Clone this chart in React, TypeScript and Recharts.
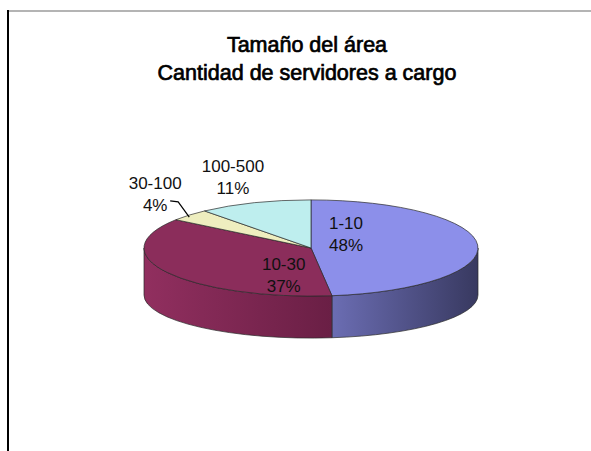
import { PieChart, Pie } from "recharts";

// tamaño del área: cantidad de servidores a cargo
const categories = ["1-10", "10-30", "30-100", "100-500"];
const shares = [48, 37, 4, 11];

const topColors = ["#8C8FEA", "#8B2D5B", "#EEEEBF", "#BEEEEE"];
const sideLight = ["#6B6DB3", "#912F5F", "#CFCF9A", "#9CCACA"];
const sideDark = ["#383960", "#6A1F45", "#A9A975", "#789D9D"];

// [radial fraction, vertical nudge] for each label
const labelSpots = [
  [0.21, -13],
  [0.19, 22],
  [1.28, -12],
  [1.38, -9],
];

const RY_RATIO = 0.288;
const RYB_RATIO = 0.258;
const DEPTH = 47;
const RAD = Math.PI / 180;

const data = categories.map((name, i) => ({ name, value: shares[i] }));

function Slice3D(props: any) {
  const { cx, cy, outerRadius: rx, startAngle, endAngle, name } = props;
  const i = categories.indexOf(name);
  const ry = rx * RY_RATIO;
  const ryb = rx * RYB_RATIO;
  const top = (a: number) => [cx + rx * Math.cos(a * RAD), cy - ry * Math.sin(a * RAD)];
  const bot = (a: number) => [cx + rx * Math.cos(a * RAD), cy + DEPTH - ryb * Math.sin(a * RAD)];
  const s = Math.max(startAngle, endAngle);
  const e = Math.min(startAngle, endAngle);

  // front half of the rim: angles between 0 and -180
  const sides: string[] = [];
  for (const k of [-360, 0, 360]) {
    const b1 = Math.min(s, 0 + k);
    const b2 = Math.max(e, -180 + k);
    if (b1 > b2) {
      const p1 = top(b1), p2 = top(b2), q2 = bot(b2), q1 = bot(b1);
      sides.push(
        `M${p1[0]},${p1[1]} A${rx},${ry} 0 0 1 ${p2[0]},${p2[1]} L${q2[0]},${q2[1]} A${rx},${ryb} 0 0 0 ${q1[0]},${q1[1]} Z`
      );
    }
  }
  const a = top(s), b = top(e);
  const large = s - e > 180 ? 1 : 0;
  const topPath = `M${cx},${cy} L${a[0]},${a[1]} A${rx},${ry} 0 ${large} 1 ${b[0]},${b[1]} Z`;
  const gid = `side-${i}`;
  return (
    <g>
      <defs>
        <linearGradient id={gid} x1="0" y1="0" x2="1" y2="0">
          <stop offset="0%" stopColor={sideLight[i]} />
          <stop offset="100%" stopColor={sideDark[i]} />
        </linearGradient>
      </defs>
      {sides.map((d, j) => (
        <path key={j} d={d} fill={`url(#${gid})`} stroke="#2a2a2a" strokeWidth={0.7} />
      ))}
      <path d={topPath} fill={topColors[i]} stroke="#2a2a2a" strokeWidth={0.7} />
    </g>
  );
}

function SliceLabel(props: any) {
  const { cx, cy, outerRadius: rx, midAngle, name, value } = props;
  const i = categories.indexOf(name);
  const ry = rx * RY_RATIO;
  const [fr, dy] = labelSpots[i];
  const x = cx + fr * rx * Math.cos(midAngle * RAD);
  const y = cy - fr * ry * Math.sin(midAngle * RAD) + dy;
  const edge = [cx + rx * Math.cos(midAngle * RAD), cy - ry * Math.sin(midAngle * RAD)];
  return (
    <g>
      {i === 2 && (
        <polyline
          points={`${x + 15},${y + 7} ${x + 23},${y + 8} ${edge[0]},${edge[1] + 2}`}
          fill="none"
          stroke="#000"
          strokeWidth={1.2}
        />
      )}
      <text
        x={x}
        y={y}
        textAnchor="middle"
        fontFamily="'Liberation Sans', Arial, sans-serif"
        fontSize={17}
        fill="#111"
      >
        <tspan x={x} dy={-5}>{name}</tspan>
        <tspan x={x} dy={22}>{`${value}%`}</tspan>
      </text>
    </g>
  );
}

export default function App() {
  return (
    <div style={{ position: "absolute", left: 0, top: 0, width: 591, height: 451, background: "#fff", overflow: "hidden" }}>
      <div style={{ position: "absolute", left: 8, top: 10, width: 583, height: 0, borderTop: "2px solid #b4b4b4" }} />
      <div style={{ position: "absolute", left: 7, top: 10, width: 0, height: 441, borderLeft: "2px solid #000" }} />
      <div
        style={{
          position: "absolute",
          left: 107,
          top: 31,
          width: 400,
          textAlign: "center",
          fontFamily: "'Liberation Sans', Arial, sans-serif",
          fontSize: 21.5,
          lineHeight: "28px",
          color: "#000",
          WebkitTextStroke: "0.7px #000",
        }}
      >
        Tamaño del área
        <br />
        Cantidad de servidores a cargo
      </div>
      <PieChart width={591} height={451} style={{ position: "absolute", left: 0, top: 0 }}>
        <Pie
          data={data}
          dataKey="value"
          nameKey="name"
          cx={306}
          cy={243}
          outerRadius={167}
          startAngle={90}
          endAngle={-270}
          stroke="none"
          shape={Slice3D}
          activeShape={Slice3D}
          label={SliceLabel}
          labelLine={false}
          isAnimationActive={false}
        />
      </PieChart>
    </div>
  );
}
